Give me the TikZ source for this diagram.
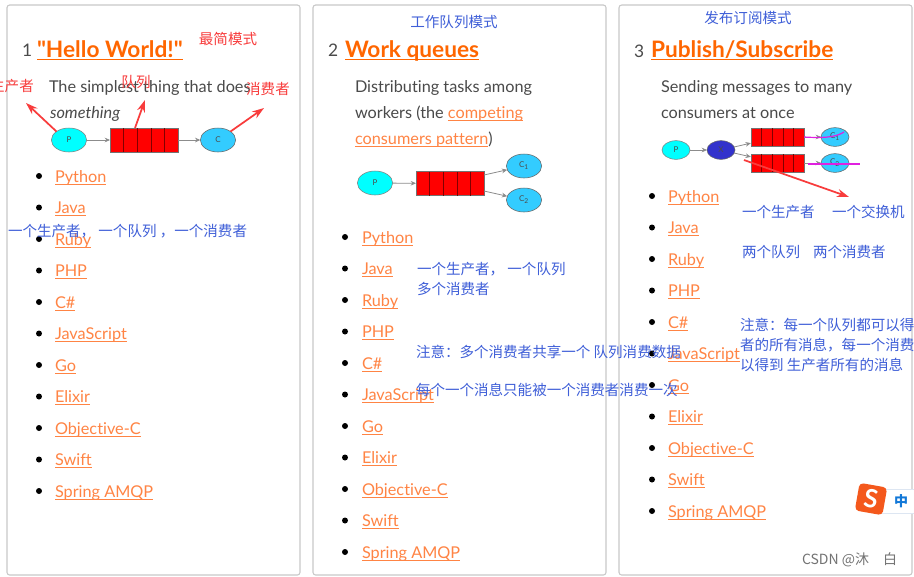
\documentclass[tikz,border=0pt]{standalone}
\usepackage{fontspec}
\setmainfont{Lato}[Ligatures=NoCommon]
\newfontfamily\headfont{Lato}[Ligatures=NoCommon]
\newfontfamily\cjk{Noto Sans CJK SC}
\usetikzlibrary{positioning,arrows.meta,shapes.geometric,calc}
\definecolor{cardline}{HTML}{c8c8c8}
\definecolor{bodygray}{HTML}{4a4a4a}
\definecolor{linkorange}{HTML}{ff6600}
\definecolor{listorange}{HTML}{ff8444}
\definecolor{noteblue}{HTML}{3f5fd8}
\definecolor{notered}{HTML}{f83c3c}
\definecolor{sendercyan}{HTML}{00ffff}
\definecolor{takerblue}{HTML}{33ccff}
\definecolor{switchblue}{HTML}{3333cc}
\definecolor{penmagenta}{HTML}{e020e0}
\definecolor{sogouorange}{HTML}{f4581c}
\definecolor{sogoublue}{HTML}{1278d8}
\definecolor{sogouedge}{HTML}{dde6f2}
\newcommand{\linkline}[1]{\underline{\smash{#1}}}
\tikzset{
  every node/.style={inner sep=0pt, outer sep=0pt},
  card/.style={
    rectangle, rounded corners=2pt,
    draw=cardline, fill=white, line width=0.8pt,
    minimum width=219.75pt, minimum height=427.5pt,
    anchor=north west
  },
  stepnum/.style={anchor=mid west, font=\fontsize{13}{15}\selectfont, text=bodygray},
  headlink/.style={anchor=mid west, font=\headfont\fontsize{17}{20}\selectfont\bfseries, text=linkorange},
  bodytext/.style={anchor=mid west, font=\fontsize{12.2}{14}\selectfont, text=bodygray},
  langlink/.style={anchor=mid west, font=\fontsize{12.2}{14}\selectfont, text=listorange},
  dot/.style={circle, fill=black, minimum size=4.5pt},
  rednote/.style={font=\cjk\fontsize{10.9}{13}\selectfont, text=notered},
  bluenote/.style={font=\cjk\fontsize{10.9}{13}\selectfont, text=noteblue},
  bluewest/.style={bluenote, anchor=west},
  sender/.style={ellipse, draw=gray, fill=sendercyan, font=\fontsize{6}{7}\selectfont, text=black!70},
  taker/.style={ellipse, draw=black!60, fill=takerblue, font=\fontsize{6}{7}\selectfont, text=black!70},
  bigball/.style={minimum width=26.5pt, minimum height=18pt},
  smallball/.style={minimum width=21pt, minimum height=14pt},
  queue/.style={rectangle, draw=black!55, fill=red, minimum width=51pt, minimum height=18pt},
  smallqueue/.style={rectangle, draw=black!55, fill=red, minimum width=40pt, minimum height=13.5pt},
  flow/.style={-{Stealth[length=4pt,width=3.5pt]}, draw=black!45, line width=0.6pt},
  redarrow/.style={-{Stealth[length=9pt,width=6pt]}, draw=notered, line width=1.3pt},
  penline/.style={draw=penmagenta, line width=0.9pt},
}
\newcommand{\queuecells}[1]{%
  \foreach \k in {0.2,0.4,0.6,0.8}
    \draw[red!50!black] ($(#1.north west)!\k!(#1.north east)$) -- ($(#1.south west)!\k!(#1.south east)$);
}
\newcommand{\langlist}[4]{%
  \foreach \lang [count=\i] in {Python,Java,Ruby,PHP,C\#,JavaScript,Go,Elixir,Objective-C,Swift,Spring AMQP}{
    \pgfmathsetmacro{\yy}{#4+31.5*(\i-1)}
    \node[dot] (#1dot\i) at (#2,\yy) {};
    \node[langlink] (#1lang\i) at (#3,\yy+3) {\linkline{\lang}};
  }
}
\begin{document}
\begin{tikzpicture}[x=0.75pt,y=-0.75pt]
  \useasboundingbox (0,0) rectangle (914,576);
  \fill[white] (0,0) rectangle (914,576);
  % the three cards
  \node[card] (carda) at (7,5) {};
  \node[card] (cardb) at (313,5) {};
  \node[card] (cardc) at (619,5) {};

  % card 1
  \node[stepnum] (numa) at (22,53) {1};
  \node[headlink] (heada) at (37,54) {\linkline{"Hello World!"}};
  \node[bodytext] (bodya) at (49,89.5) {The simplest thing that does};
  \node[bodytext, font=\fontsize{12.2}{14}\selectfont\itshape] (bodyaa) at (50,115.5) {something};
  \node[sender, bigball] (pa) at (69,140) {P};
  \node[queue] (qa) at (144,140) {};
  \queuecells{qa}
  \node[taker, bigball] (ca) at (218,140) {C};
  \draw[flow] (pa) -- (qa);
  \draw[flow] (qa) -- (ca);
  \langlist{a}{39}{55}{176}

  % card 2
  \node[stepnum] (numb) at (328,53) {2};
  \node[headlink] (headb) at (345,54) {\linkline{Work queues}};
  \node[bodytext] (bodyb) at (355,89.5) {Distributing tasks among};
  \node[bodytext] (bodybb) at (355,115.5) {workers (the \textcolor{listorange}{\linkline{competing}}};
  \node[bodytext] (bodybc) at (355,141.5) {\textcolor{listorange}{\linkline{consumers pattern}})};
  \node[sender, bigball] (pb) at (375,183) {P};
  \node[queue] (qb) at (450,183.5) {};
  \queuecells{qb}
  \node[taker, bigball] (cba) at (524,166) {C\textsubscript{1}};
  \node[taker, bigball] (cbb) at (524,200) {C\textsubscript{2}};
  \draw[flow] (pb) -- (qb);
  \draw[flow] (qb.east |- 0,175) -- (cba);
  \draw[flow] (qb.east |- 0,191) -- (cbb);
  \langlist{b}{345}{362}{237}

  % card 3
  \node[stepnum] (numc) at (634,54) {3};
  \node[headlink] (headc) at (651,54) {\linkline{Publish/Subscribe}};
  \node[bodytext] (bodyc) at (661,89.5) {Sending messages to many};
  \node[bodytext] (bodycc) at (661,115.5) {consumers at once};
  \node[sender, smallball] (pc) at (676,150) {P};
  \node[taker, smallball, fill=switchblue] (xc) at (721,150) {X};
  \node[smallqueue] (qca) at (777.5,137) {};
  \queuecells{qca}
  \node[smallqueue] (qcb) at (777.5,163) {};
  \queuecells{qcb}
  \node[taker, smallball] (cca) at (835,137) {C\textsubscript{1}};
  \node[taker, smallball] (ccb) at (835,163) {C\textsubscript{2}};
  \draw[flow] (pc) -- (xc);
  \draw[flow] (xc) -- (qca);
  \draw[flow] (xc) -- (qcb);
  \draw[flow] (qca) -- (cca);
  \draw[flow] (qcb) -- (ccb);
  \langlist{c}{652}{668}{196}

  % pen marks over the consumers
  \coordinate (pena) at (844,132);
  \coordinate (penb) at (860,164);
  \coordinate (penc) at (808,164);
  \draw[penline] (qca.east) .. controls (820,138) and (835,138) .. (pena);
  \draw[penline] (penc) -- (penb);

  % red notes
  \coordinate (tipa) at (26,103);
  \coordinate (tipb) at (145,100);
  \coordinate (tipc) at (264,108);
  \coordinate (tipd) at (849,197);
  \coordinate (tailq) at (135,128);
  \coordinate (tailx) at (744,160);
  \node[rednote] (notemode) at (228,39) {最简模式};
  \node[rednote] (noteprod) at (12,86) {生产者};
  \node[rednote] (notequeue) at (136,82) {队列};
  \node[rednote] (notecons) at (268,89) {消费者};
  \draw[redarrow] (pa.north west) -- (tipa);
  \draw[redarrow] (tailq) -- (tipb);
  \draw[redarrow] (ca.north east) -- (tipc);
  \draw[redarrow] (tailx) -- (tipd);

  % blue notes
  \node[bluewest] (notea) at (8,231) {一个生产者， 一个队列 ，一个消费者};
  \node[bluenote] (titleb) at (454,22) {工作队列模式};
  \node[bluewest] (noteba) at (417,269) {一个生产者， 一个队列};
  \node[bluewest] (notebb) at (417,289) {多个消费者};
  \node[bluewest] (notebc) at (416,352) {注意：多个消费者共享一个 队列消费数据};
  \node[bluewest] (notebd) at (416,390) {每个一个消息只能被一个消费者消费一次};
  \node[bluenote] (titlec) at (748,18) {发布订阅模式};
  \node[bluewest] (noteca) at (742,212) {一个生产者};
  \node[bluewest] (notecb) at (832,212) {一个交换机};
  \node[bluewest] (notecc) at (742,252) {两个队列};
  \node[bluewest] (notecd) at (813,252) {两个消费者};
  \node[bluewest] (notece) at (740,325) {注意：每一个队列都可以得};
  \node[bluewest] (notecf) at (740,345) {者的所有消息，每一个消费};
  \node[bluewest] (notecg) at (740,365) {以得到 生产者所有的消息};

  % input method badge and watermark
  \draw[sogouedge, fill=white] (914,489) -- (880,489) -- (880,513) -- (914,513);
  \node[rectangle, rounded corners=3pt, fill=sogouorange, minimum size=21pt, rotate=-10,
        text=white, font=\fontsize{19}{20}\selectfont\bfseries] (sogou) at (871,499) {S};
  \node[font=\cjk\fontsize{10.5}{12}\selectfont\bfseries, text=sogoublue] (zhong) at (901,501) {中};
  \node[anchor=west, font=\cjk\fontsize{10.5}{12}\selectfont, text=black!55] (mark) at (802,560) {CSDN @沐　白};
\end{tikzpicture}
\end{document}
